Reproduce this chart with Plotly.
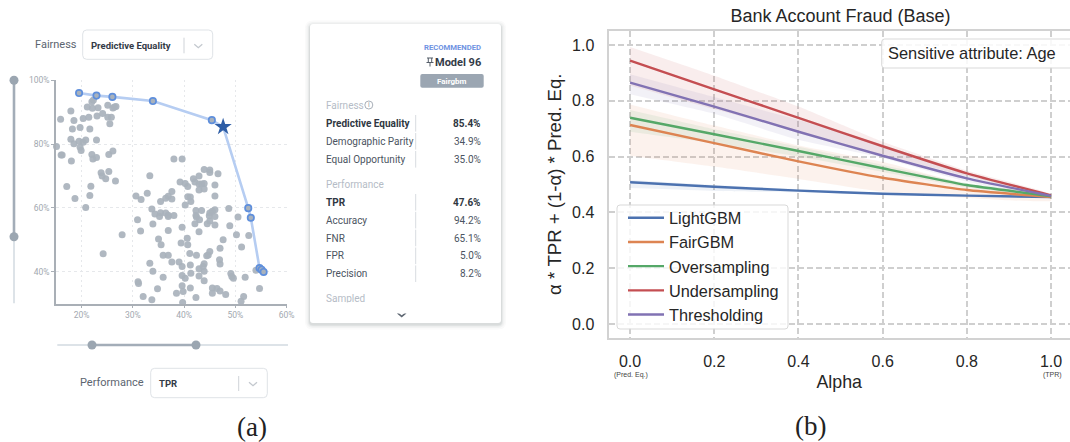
import plotly.graph_objects as go

W, H = 1070, 442

# ---------- panel (a): model scatter ----------
tpr_models = [17.9,15.9,18.5,18.2,19.7,20.3,21.4,21.1,22.1,23.2,22.0,22.3,23.0,24.1,25.1,26.1,26.7,26.4,25.1,25.8,25.5,21.6,17.9,18.5,19.5,20.3,20.8,22.9,19.7,19.9,15.1,16.0,16.2,18.0,22.0,22.2,22.9,25.3,26.1,23.8,24.0,24.7,25.3,26.6,21.8,17.1,21.6,18.7,20.8,
38.0,39.6,33.3,43.9,45.0,45.0,46.6,42.9,41.8,42.1,42.9,43.9,43.4,39.2,40.2,40.7,46.0,42.9,43.9,46.0,37.6,36.9,36.4,37.6,32.8,30.6,31.6,35.4,40.7,41.2,41.3,40.2,33.7,34.3,35.4,36.4,35.2,36.9,36.9,38.0,42.3,43.4,46.0,45.5,45.0,44.9,42.3,42.4,43.0,42.1,46.0,45.0,44.5,46.0,48.7,50.5,48.9,30.9,33.9,31.5,36.9,39.6,42.9,27.9,35.0,35.5,40.6,39.4,40.7,50.2,52.6,47.6,47.0,51.2,41.1,35.9,36.9,42.4,44.4,44.7,45.0,46.9,47.0,33.3,37.6,39.0,39.6,41.2,24.2,43.9,43.7,42.9,43.9,33.9,41.3,39.6,40.2,35.9,42.9,43.9,49.1,49.3,49.6,51.9,54.0,31.0,31.1,39.6,34.8,41.2,45.5,46.4,47.0,45.5,48.1,54.7,39.8,38.5,51.6,51.1,32.0,33.7,42.3,39.7]
fair_models = [90.4,87.8,87.4,84.7,85.2,88.0,88.4,91.6,91.2,91.4,93.3,93.8,88.8,89.6,92.2,91.3,91.8,91.6,88.4,88.4,86.4,84.7,81.5,80.1,80.9,80.6,81.3,81.3,79.0,78.0,79.2,76.6,76.6,74.7,76.7,75.3,75.8,76.7,77.8,71.0,70.0,69.1,71.4,68.4,66.8,66.7,63.9,62.9,60.1,
75.3,75.3,70.1,72.0,71.9,71.1,70.7,70.0,69.1,68.1,67.5,67.6,67.5,68.1,67.6,66.7,67.2,65.6,65.9,63.7,65.1,63.6,63.0,62.8,64.6,63.7,62.6,62.0,63.5,63.4,62.0,60.9,59.6,58.1,58.5,58.4,57.3,57.7,57.3,57.6,59.2,59.2,59.4,58.9,58.4,57.5,57.6,57.1,56.3,55.0,57.3,55.9,55.0,54.6,59.8,57.1,54.4,56.3,54.9,52.7,52.9,53.9,52.5,51.6,50.2,48.4,50.5,49.0,48.4,51.6,51.3,50.0,47.3,47.7,45.7,45.1,45.1,45.1,45.0,45.2,46.3,43.7,42.4,42.6,43.0,43.0,41.6,42.1,45.6,42.5,41.6,40.9,40.1,40.1,39.5,38.8,37.9,38.2,38.6,37.1,39.4,38.5,37.9,38.2,40.4,36.8,36.3,35.6,34.6,34.9,34.9,34.7,33.9,33.2,32.8,34.7,33.8,33.2,32.2,30.7,32.2,31.2,31.9,30.3]
tpr_front = [19.5,22.9,26.0,33.9,45.4,47.6,52.5,53.0,54.7,55.1,55.5]
fair_front = [96.0,95.2,94.8,93.5,87.5,85.4,59.9,56.9,41.1,40.6,39.9]
tpr_star = [47.6]
fair_star = [85.4]

fairness_rows = ["Predictive Equality", "Demographic Parity", "Equal Opportunity"]
fairness_vals = ["85.4%", "34.9%", "35.0%"]
perf_rows = ["TPR", "Accuracy", "FNR", "FPR", "Precision"]
perf_vals = ["47.6%", "94.2%", "65.1%", "5.0%", "8.2%"]

# ---------- panel (b): alpha curves ----------
alpha = [0.0, 0.2, 0.4, 0.6, 0.8, 1.0]
names = ["LightGBM", "FairGBM", "Oversampling", "Undersampling", "Thresholding"]
colors = ["#4c72b0", "#dd8452", "#55a868", "#c44e52", "#8172b3"]
fills = ["rgba(76,114,176,0.10)", "rgba(221,132,82,0.10)", "rgba(85,168,104,0.10)",
         "rgba(196,78,82,0.10)", "rgba(129,114,179,0.10)"]
mean_lgbm = [0.508, 0.492, 0.478, 0.467, 0.460, 0.455]
mean_fair = [0.713, 0.648, 0.583, 0.524, 0.480, 0.455]
mean_over = [0.739, 0.680, 0.620, 0.558, 0.498, 0.458]
mean_under = [0.944, 0.841, 0.739, 0.637, 0.540, 0.461]
mean_thr = [0.865, 0.779, 0.689, 0.603, 0.522, 0.459]
up_lgbm = [0.516, 0.498, 0.483, 0.470, 0.462, 0.457]
lo_lgbm = [0.487, 0.477, 0.472, 0.464, 0.457, 0.453]
up_fair = [0.787, 0.711, 0.640, 0.581, 0.500, 0.465]
lo_fair = [0.603, 0.564, 0.520, 0.474, 0.452, 0.442]
up_over = [0.767, 0.698, 0.635, 0.570, 0.505, 0.460]
lo_over = [0.689, 0.648, 0.600, 0.545, 0.490, 0.455]
up_under = [0.993, 0.890, 0.779, 0.653, 0.550, 0.466]
lo_under = [0.855, 0.770, 0.689, 0.606, 0.530, 0.456]
up_thr = [0.895, 0.813, 0.731, 0.642, 0.535, 0.462]
lo_thr = [0.823, 0.753, 0.660, 0.595, 0.510, 0.456]
means = [mean_lgbm, mean_fair, mean_over, mean_under, mean_thr]
uppers = [up_lgbm, up_fair, up_over, up_under, up_thr]
lowers = [lo_lgbm, lo_fair, lo_over, lo_under, lo_thr]
x_ticks = [0.0, 0.2, 0.4, 0.6, 0.8, 1.0]
y_ticks = [0.0, 0.2, 0.4, 0.6, 0.8, 1.0]


def fx(p):
    return p / W


def fy(p):
    return 1 - p / H


fig = go.Figure()

# pixel-space helper trace (activates the chrome axes)
fig.add_trace(go.Scatter(x=[0, W], y=[0, H], xaxis="x3", yaxis="y3", mode="markers",
                         marker=dict(opacity=0), showlegend=False, hoverinfo="skip"))

# scatter panel
fig.add_trace(go.Scatter(x=tpr_models, y=fair_models, mode="markers", xaxis="x", yaxis="y",
                         showlegend=False, cliponaxis=False,
                         marker=dict(size=7, color="#a9b2bc", opacity=0.92)))
fig.add_trace(go.Scatter(x=tpr_front, y=fair_front, mode="lines", xaxis="x", yaxis="y",
                         showlegend=False, line=dict(color="#b6cdf2", width=2.6)))
fig.add_trace(go.Scatter(x=[v for v, f in zip(tpr_front, fair_front) if v != tpr_star[0]],
                         y=[f for v, f in zip(tpr_front, fair_front) if v != tpr_star[0]],
                         mode="markers", xaxis="x", yaxis="y", showlegend=False, cliponaxis=False,
                         marker=dict(size=6.4, color="#a9b2bc", line=dict(color="#5f8fdc", width=1.7))))
fig.add_trace(go.Scatter(x=tpr_star, y=fair_star, mode="markers", xaxis="x", yaxis="y",
                         showlegend=False, cliponaxis=False,
                         marker=dict(symbol="star", size=13, color="#2f5ea6")))

# curves panel: bands first, then lines
for i in range(5):
    fig.add_trace(go.Scatter(x=alpha + alpha[::-1], y=uppers[i] + lowers[i][::-1], mode="lines",
                             xaxis="x2", yaxis="y2", fill="toself", fillcolor=fills[i],
                             line=dict(width=0, shape="spline", smoothing=0.4),
                             showlegend=False, hoverinfo="skip"))
for i in range(5):
    fig.add_trace(go.Scatter(x=alpha, y=means[i], mode="lines", name=names[i], xaxis="x2", yaxis="y2",
                             line=dict(color=colors[i], width=2.4, shape="spline", smoothing=0.4)))

ROBOTO = "Roboto"
LIB = "Liberation Sans"
anns = []


def text(x, y, s, size, color, anchor="left", family=ROBOTO, bold=False):
    pad = {"left": -2.5, "right": 2.5, "center": 0}[anchor]
    anns.append(dict(x=fx(x + pad), y=fy(y), xref="paper", yref="paper", xanchor=anchor, yanchor="middle",
                     showarrow=False, text=("<b>%s</b>" % s) if bold else s,
                     font=dict(family=family, size=size, color=color)))


shapes = []


def rrect(x0, y0, x1, y1, r, fill, line=None, lw=1, layer="below"):
    Y0, Y1 = y0, y1
    path = (f"M {x0+r} {H-Y0} L {x1-r} {H-Y0} Q {x1} {H-Y0} {x1} {H-Y0-r} L {x1} {H-Y1+r} "
            f"Q {x1} {H-Y1} {x1-r} {H-Y1} L {x0+r} {H-Y1} Q {x0} {H-Y1} {x0} {H-Y1+r} "
            f"L {x0} {H-Y0-r} Q {x0} {H-Y0} {x0+r} {H-Y0} Z")
    shapes.append(dict(type="path", path=path, xref="x3", yref="y3", fillcolor=fill, layer=layer,
                       line=dict(color=line or "rgba(0,0,0,0)", width=lw if line else 0)))


def seg(x0, y0, x1, y1, color, w, layer="below"):
    shapes.append(dict(type="line", xref="x3", yref="y3", x0=x0, y0=H-y0, x1=x1, y1=H-y1,
                       line=dict(color=color, width=w), layer=layer))


def dot(cx, cy, r, color, line=None, lw=0):
    shapes.append(dict(type="circle", xref="x3", yref="y3", x0=cx-r, x1=cx+r, y0=H-cy-r, y1=H-cy+r,
                       fillcolor=color, line=dict(color=line or color, width=lw), layer="below"))


def chevron(cx, cy, w, h, color, lw=1.3):
    shapes.append(dict(type="path", xref="x3", yref="y3",
                       path=f"M {cx-w} {H-cy+h/2} L {cx} {H-cy-h/2} L {cx+w} {H-cy+h/2}",
                       line=dict(color=color, width=lw), layer="below"))


# dropdowns
BOX = "#dfe3e7"
text(35, 45, "Fairness", 11, "#5c6570")
rrect(82.7, 30, 212.7, 59.3, 4, "white", BOX)
text(91, 46, "Predictive Equality", 9.5, "#333b47", bold=True)
seg(184, 37.7, 184, 53.3, "#cfd3d8", 1)
chevron(198.3, 46, 4, 3.5, "#c3c8ce")

text(143, 382.7, "Performance", 11, "#5c6570", anchor="right")
rrect(150.7, 368.3, 267.3, 397.7, 4, "white", BOX)
text(159.3, 383.5, "TPR", 9.5, "#333b47", bold=True)
seg(238.7, 376, 238.7, 391, "#cfd3d8", 1)
chevron(253, 384, 4, 3.5, "#c3c8ce")

# sliders
seg(14, 80.3, 14, 303.3, "#dde3e8", 2)
seg(14, 80.3, 14, 236.7, "#a3adb8", 2.6)
dot(14, 80.3, 4.5, "#9ba6b1")
dot(14, 236.7, 4.5, "#9ba6b1")
seg(57.3, 345, 288, 345, "#dde3e8", 2)
seg(92, 345, 196, 345, "#a3adb8", 2.6)
dot(92, 345, 4.5, "#9ba6b1")
dot(196, 345, 4.5, "#9ba6b1")

# card with shadow
for grow, a in [(5, 0.025), (3.5, 0.035), (2, 0.05), (1, 0.07)]:
    rrect(310-grow, 24-grow+1.5, 501+grow, 323+grow+1.5, 3+grow, f"rgba(40,50,60,{a})")
rrect(310, 24, 501, 323, 3, "white")

text(480, 47.3, "RECOMMENDED", 7.7, "#6f93e2", anchor="right", bold=True)
text(480, 62.7, "Model 96", 11, "#333b47", anchor="right", bold=True)
# pin icon
seg(427, 58, 433, 58, "#555e69", 1)
seg(428.3, 58, 428.3, 62.5, "#555e69", 1)
seg(431.7, 58, 431.7, 62.5, "#555e69", 1)
seg(426.5, 62.5, 433.5, 62.5, "#555e69", 1)
seg(430, 62.5, 430, 66.5, "#555e69", 1)
rrect(420.3, 74, 483.7, 87.7, 2, "#9ba6b2")
text(452, 81, "Fairgbm", 8, "#ffffff", anchor="center", bold=True)

HEAD = "#b5bcc6"
BODY = "#4b5461"
STRONG = "#2f3742"
text(326.7, 105, "Fairness", 10, HEAD)
shapes.append(dict(type="circle", xref="x3", yref="y3", x0=364.8, x1=372.8, y0=H-109, y1=H-101,
                   line=dict(color="#a9b0b9", width=1), layer="below"))
text(368.8, 105, "i", 7, "#8f97a1", anchor="center")
for i, (lab, val) in enumerate(zip(fairness_rows, fairness_vals)):
    y = 123.3 + 18 * i
    text(326.7, y, lab, 10, STRONG if i == 0 else BODY, bold=i == 0)
    text(480, y, val, 10, STRONG if i == 0 else BODY, anchor="right", bold=i == 0)
    seg(415.7, y-8.3, 415.7, y+8.3, "#d8dce0", 1)
text(326.7, 184.7, "Performance", 10, HEAD)
for i, (lab, val) in enumerate(zip(perf_rows, perf_vals)):
    y = 202.3 + 17.85 * i
    text(326.7, y, lab, 10, STRONG if i == 0 else BODY, bold=i == 0)
    text(480, y, val, 10, STRONG if i == 0 else BODY, anchor="right", bold=i == 0)
    seg(415.7, y-8.3, 415.7, y+8.3, "#d8dce0", 1)
text(326.7, 298.7, "Sampled", 10, HEAD)
# hide the lower part of the clipped row
anns.append(dict(x=fx(320), y=fy(302), xref="paper", yref="paper", xanchor="left", yanchor="top",
                 showarrow=False, text=" ", width=120, height=10, bgcolor="white", borderpad=0,
                 font=dict(size=8)))
chevron(401.7, 314.7, 4.3, 3.5, "#5f6873", 1.5)

# sub-captions
text(252, 427, "(a)", 27, "#222222", anchor="center", family="Liberation Serif")
text(810, 426, "(b)", 27, "#222222", anchor="center", family="Liberation Serif")

# panel (b) decorations
rrect(881.7, 39, 1090, 68, 3, "rgba(255,255,255,0.85)", "#d9d9d9", 1, layer="above")
text(888.5, 53, "Sensitive attribute: Age", 16.4, "#262626", family=LIB)
text(631, 374.5, "(Pred. Eq.)", 7, "#444444", anchor="center", family=LIB)
text(1052, 374.5, "(TPR)", 7, "#444444", anchor="center", family=LIB)
rrect(617, 205, 788, 329, 3, "rgba(255,255,255,0.8)", "#d9d9d9", 1, layer="above")

fig.update_layout(
    width=W, height=H, autosize=False, margin=dict(l=0, r=0, t=0, b=0, autoexpand=False),
    paper_bgcolor="white", plot_bgcolor="rgba(0,0,0,0)",
    title=dict(text="Bank Account Fraud (Base)", x=840.5/W, y=fy(16), xanchor="center", yanchor="middle",
               xref="paper", yref="paper", font=dict(family=LIB, size=18, color="#262626")),
    xaxis=dict(domain=[fx(56), fx(286.7)], range=[15, 60], tickvals=[20, 30, 40, 50, 60],
               ticktext=["20%", "30%", "40%", "50%", "60%"], ticks="outside", ticklen=3,
               tickcolor="#a9afb6", tickfont=dict(family=ROBOTO, size=8.5, color="#a2a8af"),
               showline=True, linecolor="#a9afb6", linewidth=1.5, showgrid=True, gridcolor="#e6e8eb",
               griddash="2px,3px", gridwidth=1, zeroline=False, anchor="y"),
    yaxis=dict(domain=[fy(303.5), fy(80.3)], range=[30, 100], tickvals=[40, 60, 80, 100],
               ticktext=["40%", "60%", "80%", "100%"], ticks="outside", ticklen=3,
               tickcolor="#a9afb6", tickfont=dict(family=ROBOTO, size=8.5, color="#a2a8af"),
               showline=True, linecolor="#a9afb6", linewidth=1.5, showgrid=True, gridcolor="#e6e8eb",
               griddash="3px,3px", gridwidth=1, zeroline=False, anchor="x"),
    xaxis2=dict(domain=[fx(608.5), 1], range=[-0.0513, 1.045], tickvals=x_ticks,
                ticktext=["%.1f" % t for t in x_ticks], ticks="", showline=True, linecolor="#d2d2d2",
                linewidth=2, mirror=True, showgrid=True, gridcolor="#cfcfcf", griddash="6px,3px",
                gridwidth=1.5, zeroline=False, anchor="y2", ticklabelstandoff=8,
                tickfont=dict(family=LIB, size=16, color="#262626"),
                title=dict(text="Alpha", standoff=7, font=dict(family=LIB, size=17.8, color="#262626"))),
    yaxis2=dict(domain=[fy(337.7), fy(30.7)], range=[-0.049, 1.051], tickvals=y_ticks,
                ticktext=["%.1f" % t for t in y_ticks], ticks="", showline=True, linecolor="#d2d2d2",
                linewidth=2, mirror=True, showgrid=True, gridcolor="#cfcfcf", griddash="6px,3px",
                gridwidth=1.5, zeroline=False, anchor="x2", ticklabelstandoff=9,
                tickfont=dict(family=LIB, size=16, color="#262626"),
                title=dict(text="α * TPR + (1-α) * Pred. Eq.", standoff=6,
                           font=dict(family=LIB, size=18.6, color="#262626"))),
    # pixel-space helper axes for the interface chrome
    xaxis3=dict(domain=[0, 1], range=[0, W], visible=False, anchor="y3", fixedrange=True),
    yaxis3=dict(domain=[0, 1], range=[0, H], visible=False, anchor="x3", fixedrange=True),
    legend=dict(x=fx(623), y=fy(200.7), xanchor="left", yanchor="top", bgcolor="rgba(0,0,0,0)",
                borderwidth=0, font=dict(family=LIB, size=16.3, color="#262626"), itemwidth=36,
                traceorder="normal"),
    shapes=shapes, annotations=anns,
)

fig.write_html("out.html", config={"displayModeBar": False},
               post_script="document.body.style.margin='0';document.body.style.overflow='hidden';")
